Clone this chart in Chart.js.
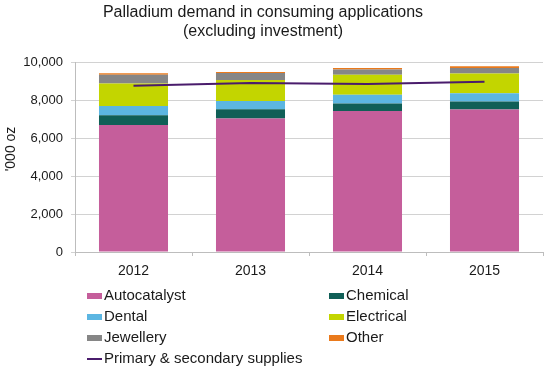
<!DOCTYPE html>
<html lang="en">
<head>
<meta charset="UTF-8">
<title>Palladium demand</title>
<script src="https://cdn.jsdelivr.net/npm/chart.js@4.4.1/dist/chart.umd.min.js"></script>
<style>
    html, body { margin: 0; padding: 0; background: #fff; }
    #wrap { width: 554px; height: 371px; position: relative; }
</style>
</head>
<body>
<div id="wrap"><canvas id="demandChart"></canvas></div>
<script>
// values in '000 oz
const years = ['2012', '2013', '2014', '2015'];
const autocatalyst = [6680, 7020, 7420, 7500];
const chemical = [515, 490, 395, 420];
const dental = [490, 440, 455, 440];
const electrical = [1185, 1100, 1060, 1040];
const jewellery = [460, 370, 280, 280];
const other = [75, 60, 70, 90];
const supplies = [8750, 8890, 8840, 8960];
const yTicks = [0, 2000, 4000, 6000, 8000, 10000];

const titleLines = ['Palladium demand in consuming applications', '(excluding investment)'];
const yTitle = "'000 oz";
const FONT = '"Liberation Sans", Arial, Helvetica, sans-serif';

function bar(label, data, color) {
    return { type: 'bar', label: label, data: data, backgroundColor: color, stack: 'demand', order: 1 };
}

// title, axis title and two column legend drawn by hand, the built-in ones can't do this layout
const extras = {
    id: 'extras',
    afterDraw(chart) {
        const ctx = chart.ctx;
        ctx.save();
        ctx.fillStyle = '#1a1a1a';
        ctx.textAlign = 'center';
        ctx.textBaseline = 'middle';
        ctx.font = '16px ' + FONT;
        titleLines.forEach((t, i) => ctx.fillText(t, 263, 13 + i * 19));

        ctx.save();
        ctx.translate(11, 149);
        ctx.rotate(-Math.PI / 2);
        ctx.font = '14px ' + FONT;
        ctx.fillText(yTitle, 0, 0);
        ctx.restore();

        ctx.textAlign = 'left';
        ctx.font = '15px ' + FONT;
        chart.data.datasets.forEach((ds, i) => {
            const x = i % 2 === 0 ? 87 : 329;
            const y = 296 + Math.floor(i / 2) * 21;
            if (ds.type === 'line') {
                ctx.strokeStyle = ds.borderColor;
                ctx.lineWidth = 2;
                ctx.beginPath();
                ctx.moveTo(x, y);
                ctx.lineTo(x + 15, y);
                ctx.stroke();
            } else {
                ctx.fillStyle = ds.backgroundColor;
                ctx.fillRect(x, y - 3, 15, 6);
            }
            ctx.fillStyle = '#1a1a1a';
            ctx.fillText(ds.label, x + 17, y);
        });
        ctx.restore();
    }
};

new Chart(document.getElementById('demandChart'), {
    data: {
        labels: years,
        datasets: [
            bar('Autocatalyst', autocatalyst, '#c55e9b'),
            bar('Chemical', chemical, '#105f57'),
            bar('Dental', dental, '#5cb6e2'),
            bar('Electrical', electrical, '#c3d500'),
            bar('Jewellery', jewellery, '#868686'),
            bar('Other', other, '#ea7a1c'),
            {
                type: 'line',
                label: 'Primary & secondary supplies',
                data: supplies,
                borderColor: '#4a1c6c',
                borderWidth: 2,
                pointRadius: 0,
                tension: 0,
                stack: 'supply',
                order: 0
            }
        ]
    },
    options: {
        responsive: true,
        maintainAspectRatio: false,
        animation: false,
        datasets: { bar: { categoryPercentage: 1, barPercentage: 0.59 } },
        layout: { padding: { left: 0, right: 11, top: 62, bottom: 89 } },
        plugins: {
            legend: { display: false },
            title: { display: false },
            tooltip: { enabled: false }
        },
        scales: {
            x: {
                stacked: true,
                grid: { drawOnChartArea: false, tickLength: 4, color: '#bdbdbd' },
                border: { color: '#bdbdbd' },
                ticks: { color: '#1a1a1a', font: { family: FONT, size: 14 }, padding: 7 },
                afterFit(scale) { scale.height = 30; }
            },
            y: {
                stacked: true,
                min: 0,
                max: 10000,
                afterBuildTicks(scale) { scale.ticks = yTicks.map(v => ({ value: v })); },
                grid: { color: '#d2d2d2', tickLength: 4 },
                border: { color: '#bdbdbd' },
                ticks: { color: '#1a1a1a', font: { family: FONT, size: 13 }, padding: 8 },
                afterFit(scale) { scale.width = 75; }
            }
        }
    },
    plugins: [extras]
});
</script>
</body>
</html>
